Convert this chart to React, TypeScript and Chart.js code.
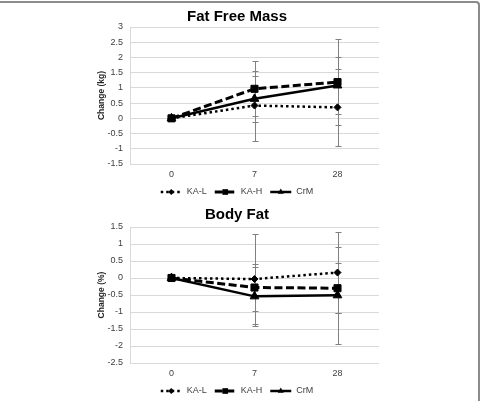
import React, { useEffect, useRef } from 'react';
import { Chart, registerables } from 'chart.js';

Chart.register(...registerables);

// ---- data ----
const categories = ['0', '7', '28'];
const seriesNames = ['KA-L', 'KA-H', 'CrM'];

const ffmKAL = [0, 0.42, 0.36];
const ffmKAH = [0, 0.97, 1.19];
const ffmCrM = [0, 0.64, 1.08];
const ffmErrKAL = [0, 1.15, 1.27];
const ffmErrKAH = [0, 0.9, 1.42];
const ffmErrCrM = [0, 0.76, 0.93];

const bfKAL = [0, -0.03, 0.16];
const bfKAH = [0, -0.28, -0.3];
const bfCrM = [0, -0.54, -0.51];
const bfErrKAL = [0, 1.32, 1.18];
const bfErrKAH = [0, 0.69, 0.73];
const bfErrCrM = [0, 0.86, 1.42];

const ffmAxis = { min: -1.5, max: 3, step: 0.5 };
const bfAxis = { min: -2.5, max: 1.5, step: 0.5 };

// ---- styles ----
const FONT = '"Liberation Sans", Arial, sans-serif';
Chart.defaults.font.family = FONT;

const styles = [
  { dash: [2.5, 3], width: 2.5, point: 'rectRot', radius: 3.5, legendRadius: 3 },
  { dash: [8, 3.5], width: 3, point: 'rect', radius: 5, legendRadius: 4 },
  { dash: [] as number[], width: 2.5, point: 'triangle', radius: 5, legendRadius: 3.5 },
];

function drawMarker(ctx: CanvasRenderingContext2D, kind: string, x: number, y: number, r: number) {
  ctx.fillStyle = '#000';
  ctx.beginPath();
  if (kind === 'rectRot') {
    ctx.moveTo(x, y - r);
    ctx.lineTo(x + r, y);
    ctx.lineTo(x, y + r);
    ctx.lineTo(x - r, y);
  } else if (kind === 'rect') {
    const s = r * Math.SQRT1_2;
    ctx.rect(x - s, y - s, 2 * s, 2 * s);
  } else {
    const h = r * 1.5;
    ctx.moveTo(x, y - r);
    ctx.lineTo(x + h / Math.sqrt(3), y + r / 2);
    ctx.lineTo(x - h / Math.sqrt(3), y + r / 2);
  }
  ctx.closePath();
  ctx.fill();
}

const errorBarPlugin = {
  id: 'errorBars',
  beforeDatasetsDraw(chart: any, _args: any, opts: any) {
    const ctx = chart.ctx;
    const yScale = chart.scales.y;
    ctx.save();
    ctx.strokeStyle = '#808080';
    ctx.lineWidth = 1;
    ctx.setLineDash([]);
    chart.data.datasets.forEach((ds: any, i: number) => {
      const meta = chart.getDatasetMeta(i);
      const errs = opts.errors[i];
      ds.data.forEach((v: number, j: number) => {
        const e = errs[j];
        if (!e) return;
        const x = Math.round(meta.data[j].x) + 0.5;
        const yt = Math.round(yScale.getPixelForValue(v + e)) + 0.5;
        const yb = Math.round(yScale.getPixelForValue(v - e)) + 0.5;
        ctx.beginPath();
        ctx.moveTo(x, yt);
        ctx.lineTo(x, yb);
        ctx.moveTo(x - 3, yt);
        ctx.lineTo(x + 3, yt);
        ctx.moveTo(x - 3, yb);
        ctx.lineTo(x + 3, yb);
        ctx.stroke();
      });
    });
    ctx.restore();
  },
};

const titlePlugin = {
  id: 'panelTitle',
  afterDraw(chart: any, _args: any, opts: any) {
    const ctx = chart.ctx;
    ctx.save();
    ctx.font = `bold 15px ${FONT}`;
    ctx.fillStyle = '#000';
    ctx.textAlign = 'center';
    ctx.textBaseline = 'alphabetic';
    ctx.fillText(opts.text, opts.cx, opts.y);
    ctx.restore();
  },
};

const legendPlugin = {
  id: 'panelLegend',
  afterDraw(chart: any, _args: any, opts: any) {
    const ctx = chart.ctx;
    ctx.save();
    ctx.font = `9px ${FONT}`;
    const sample = 21;
    const gapText = 5;
    const gapItem = 8;
    const names = chart.data.datasets.map((d: any) => d.label);
    const widths = names.map((n: string) => sample + gapText + ctx.measureText(n).width);
    const total = widths.reduce((a: number, b: number) => a + b, 0) + gapItem * (names.length - 1);
    let x = opts.cx - total / 2;
    const y = opts.y;
    names.forEach((name: string, i: number) => {
      const st = styles[i];
      ctx.strokeStyle = '#000';
      ctx.lineWidth = st.width;
      ctx.setLineDash(st.dash);
      ctx.beginPath();
      ctx.moveTo(x, y);
      ctx.lineTo(x + sample, y);
      ctx.stroke();
      ctx.setLineDash([]);
      drawMarker(ctx, st.point, x + sample / 2, y, st.legendRadius);
      ctx.fillStyle = '#404040';
      ctx.textAlign = 'left';
      ctx.textBaseline = 'middle';
      ctx.fillText(name, x + sample + gapText, y);
      x += widths[i] + gapItem;
    });
    ctx.restore();
  },
};

interface PanelSpec {
  title: string;
  yTitle: string;
  values: number[][];
  errors: number[][];
  axis: { min: number; max: number; step: number };
  padTop: number;
  padBottom: number;
  titleY: number;
  legendY: number;
}

function buildConfig(p: PanelSpec): any {
  return {
    type: 'line',
    data: {
      labels: categories,
      datasets: p.values.map((vals, i) => ({
        label: seriesNames[i],
        data: vals,
        borderColor: '#000',
        backgroundColor: '#000',
        borderWidth: styles[i].width,
        borderDash: styles[i].dash,
        pointStyle: styles[i].point,
        pointRadius: styles[i].radius,
        pointBorderWidth: 1,
        pointBackgroundColor: '#000',
        pointBorderColor: '#000',
        tension: 0,
        fill: false,
      })),
    },
    options: {
      responsive: false,
      animation: false,
      events: [],
      layout: { padding: { left: 97, right: 103, top: p.padTop, bottom: p.padBottom } },
      plugins: {
        legend: { display: false },
        title: { display: false },
        tooltip: { enabled: false },
        errorBars: { errors: p.errors },
        panelTitle: { text: p.title, cx: 237, y: p.titleY },
        panelLegend: { cx: 237, y: p.legendY },
      },
      scales: {
        x: {
          offset: true,
          grid: { display: false, drawTicks: false },
          border: { display: false },
          ticks: { color: '#404040', font: { size: 9 }, padding: 5 },
          afterFit: (s: any) => {
            s.height = 16;
          },
        },
        y: {
          min: p.axis.min,
          max: p.axis.max,
          ticks: {
            stepSize: p.axis.step,
            color: '#404040',
            font: { size: 9 },
            padding: 7,
            callback: (v: any) => String(Math.round(Number(v) * 10) / 10),
          },
          grid: { color: '#d9d9d9', drawTicks: false, lineWidth: 1 },
          border: { display: true, color: '#d9d9d9' },
          title: {
            display: true,
            text: p.yTitle,
            color: '#262626',
            font: { size: 8.5, weight: 'bold', lineHeight: 1.2 },
            padding: 0,
          },
          afterFit: (s: any) => {
            s.width = 33;
          },
        },
      },
    },
    plugins: [errorBarPlugin, titlePlugin, legendPlugin],
  };
}

const ffmSpec: PanelSpec = {
  title: 'Fat Free Mass',
  yTitle: 'Change (kg)',
  values: [ffmKAL, ffmKAH, ffmCrM],
  errors: [ffmErrKAL, ffmErrKAH, ffmErrCrM],
  axis: ffmAxis,
  padTop: 27,
  padBottom: 20,
  titleY: 21,
  legendY: 192,
};

const bfSpec: PanelSpec = {
  title: 'Body Fat',
  yTitle: 'Change (%)',
  values: [bfKAL, bfKAH, bfCrM],
  errors: [bfErrKAL, bfErrKAH, bfErrCrM],
  axis: bfAxis,
  padTop: 27,
  padBottom: 22,
  titleY: 19,
  legendY: 191,
};

function Panel({ spec, top, height }: { spec: PanelSpec; top: number; height: number }) {
  const ref = useRef<HTMLCanvasElement>(null);
  useEffect(() => {
    if (!ref.current) return;
    const chart = new Chart(ref.current, buildConfig(spec));
    return () => chart.destroy();
  }, [spec]);
  return (
    <canvas
      ref={ref}
      width={482}
      height={height}
      style={{ position: 'absolute', left: 0, top, width: 482, height, display: 'block' }}
    />
  );
}

export default function App() {
  return (
    <div
      style={{
        position: 'fixed',
        left: 0,
        top: 0,
        width: 482,
        height: 401,
        background: '#fff',
        overflow: 'hidden',
      }}
    >
      <div
        style={{
          position: 'absolute',
          left: 0,
          top: 1,
          width: 480,
          height: 410,
          boxSizing: 'border-box',
          borderTop: '2px solid #8c8c8c',
          borderRight: '2px solid #8c8c8c',
          borderTopRightRadius: 4,
        }}
      />
      <Panel spec={ffmSpec} top={0} height={200} />
      <Panel spec={bfSpec} top={200} height={201} />
    </div>
  );
}
